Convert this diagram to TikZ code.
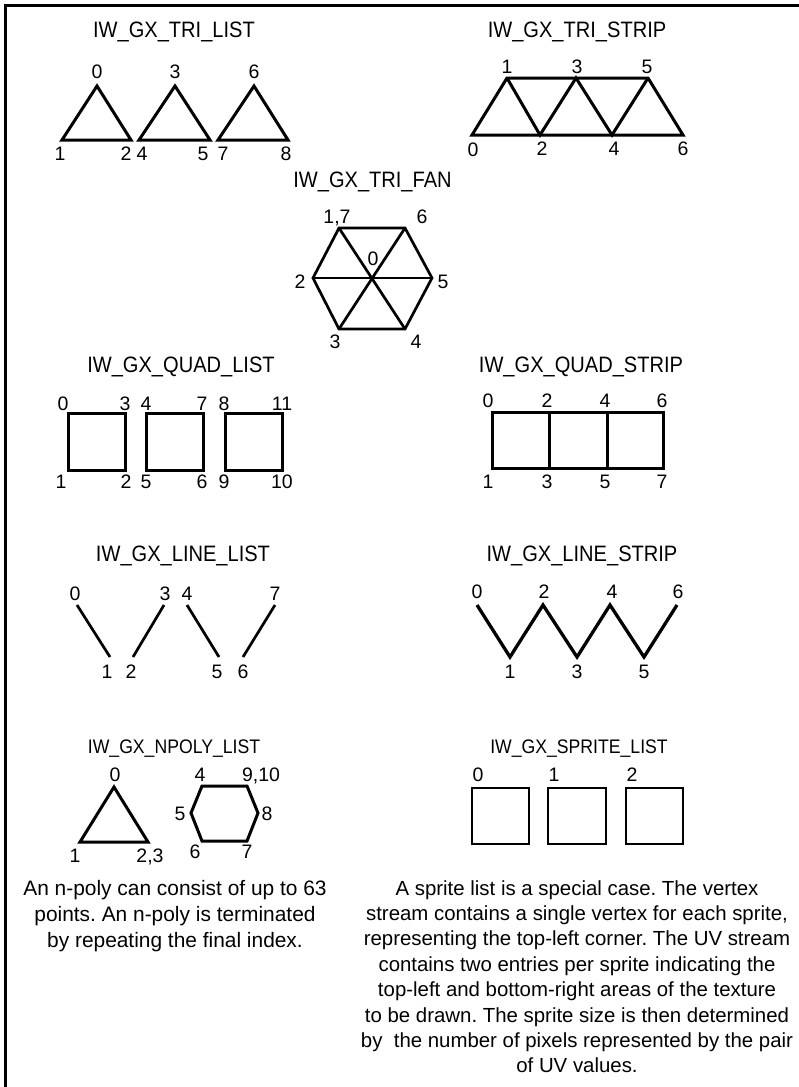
\documentclass[tikz,border=0pt]{standalone}
\usepackage{fontspec}
\setmainfont{Liberation Sans}
\newfontfamily\titlefont[FakeStretch=0.9]{Liberation Sans}
\frenchspacing
\begin{document}
\begin{tikzpicture}[x=1pt,y=-1pt,
  title/.style={font=\titlefont\fontsize{22.3}{26}\selectfont, inner sep=0pt, anchor=base},
  smalltitle/.style={font=\titlefont\fontsize{19.6}{24}\selectfont, inner sep=0pt, anchor=base},
  lbl/.style={font=\fontsize{19.5}{21}\selectfont, inner sep=0pt, anchor=base},
  para/.style={font=\fontsize{20.9}{25}\selectfont, inner sep=0pt, anchor=base},
  rpara/.style={font=\fontsize{20.4}{25}\selectfont, inner sep=0pt, anchor=base},
  thick3/.style={line width=3pt, line join=miter},
  thin2/.style={line width=1.8pt},
  frame/.style={line width=3pt}]
\useasboundingbox (0,0) rectangle (799,1087);
% frame
\coordinate (fa) at (799,5);
\coordinate (fb) at (5,5);
\coordinate (fc) at (5,1087);
\draw[frame] (fa) -- (fb) -- (fc);

% ---------- TRI LIST ----------
\node[title] (ttl1) at (174,37) {IW\_GX\_TRI\_LIST};
\coordinate (t0) at (97,86);  \coordinate (t1) at (62,140);  \coordinate (t2) at (131,140);
\coordinate (t3) at (175,86); \coordinate (t4) at (139,140); \coordinate (t5) at (210,140);
\coordinate (t6) at (254,86); \coordinate (t7) at (218,140); \coordinate (t8) at (288,140);
\draw[thick3] (t0) -- (t1) -- (t2) -- cycle;
\draw[thick3] (t3) -- (t4) -- (t5) -- cycle;
\draw[thick3] (t6) -- (t7) -- (t8) -- cycle;
\node[lbl] (lt0) at (97,78.5) {0};
\node[lbl] (lt3) at (175,78.5) {3};
\node[lbl] (lt6) at (254,78.5) {6};
\node[lbl] (lt1) at (60,160.5) {1};
\node[lbl] (lt2) at (126,160.5) {2};
\node[lbl] (lt4) at (142,160.5) {4};
\node[lbl] (lt5) at (203,160.5) {5};
\node[lbl] (lt7) at (223,160.5) {7};
\node[lbl] (lt8) at (286,160.5) {8};

% ---------- TRI STRIP ----------
\node[title] (ttl2) at (577,37) {IW\_GX\_TRI\_STRIP};
\coordinate (s0) at (472,135); \coordinate (s1) at (507,78);
\coordinate (s2) at (540,135); \coordinate (s3) at (576,78);
\coordinate (s4) at (612,135); \coordinate (s5) at (648,78);
\coordinate (s6) at (683,135);
\draw[thick3] (s0) -- (s6) -- (s5) -- (s1) -- cycle;
\draw[thick3] (s1) -- (s2) -- (s3) -- (s4) -- (s5);
\node[lbl] (ls1) at (507,73) {1};
\node[lbl] (ls3) at (577,73) {3};
\node[lbl] (ls5) at (647,73) {5};
\node[lbl] (ls0) at (473,156) {0};
\node[lbl] (ls2) at (542,155) {2};
\node[lbl] (ls4) at (614,155) {4};
\node[lbl] (ls6) at (683,155) {6};

% ---------- TRI FAN ----------
\node[title] (ttl3) at (372.5,187) {IW\_GX\_TRI\_FAN};
\coordinate (f0) at (372,278);
\coordinate (f1) at (339,228); \coordinate (f6) at (405,228);
\coordinate (f5) at (432,278); \coordinate (f4) at (405,329);
\coordinate (f3) at (339,329); \coordinate (f2) at (313,278);
\draw[line width=2.7pt] (f1) -- (f6) -- (f5) -- (f4) -- (f3) -- (f2) -- cycle;
\draw[line width=2.7pt] (f1) -- (f4);
\draw[line width=2.7pt] (f6) -- (f3);
\draw[line width=2.7pt] (f2) -- (f5);
\node[lbl] (lf1) at (337,223) {1,7};
\node[lbl] (lf6) at (422,223) {6};
\node[lbl] (lf0) at (373,265) {0};
\node[lbl] (lf2) at (300,288) {2};
\node[lbl] (lf5) at (443,288) {5};
\node[lbl] (lf3) at (335,348) {3};
\node[lbl] (lf4) at (416,348) {4};

% ---------- QUAD LIST ----------
\node[title] (ttl4) at (181,372) {IW\_GX\_QUAD\_LIST};
\coordinate (q0) at (68,413);  \coordinate (q2) at (125,470);
\coordinate (q4) at (146,413); \coordinate (q6) at (203,470);
\coordinate (q8) at (225,413); \coordinate (q10) at (282,470);
\draw[thick3] (q0) rectangle (q2);
\draw[thick3] (q4) rectangle (q6);
\draw[thick3] (q8) rectangle (q10);
\node[lbl] (lq0) at (63,410) {0};
\node[lbl] (lq3) at (125,410) {3};
\node[lbl] (lq4) at (146,410) {4};
\node[lbl] (lq7) at (202,410) {7};
\node[lbl] (lq8) at (224,410) {8};
\node[lbl] (lq11) at (282,410) {11};
\node[lbl] (lq1) at (61,488) {1};
\node[lbl] (lq2) at (126,488) {2};
\node[lbl] (lq5) at (146,488) {5};
\node[lbl] (lq6) at (202,488) {6};
\node[lbl] (lq9) at (224,488) {9};
\node[lbl] (lq10) at (282,488) {10};

% ---------- QUAD STRIP ----------
\node[title] (ttl5) at (581,372) {IW\_GX\_QUAD\_STRIP};
\coordinate (r0) at (492,412); \coordinate (r7) at (663,468);
\coordinate (r2) at (549,412); \coordinate (r3) at (549,468);
\coordinate (r4) at (607,412); \coordinate (r5) at (607,468);
\draw[thick3] (r0) rectangle (r7);
\draw[thick3] (r2) -- (r3);
\draw[thick3] (r4) -- (r5);
\node[lbl] (lr0) at (488,407) {0};
\node[lbl] (lr2) at (547,407) {2};
\node[lbl] (lr4) at (605,407) {4};
\node[lbl] (lr6) at (662,407) {6};
\node[lbl] (lr1) at (488,488) {1};
\node[lbl] (lr3) at (547,488) {3};
\node[lbl] (lr5) at (605,488) {5};
\node[lbl] (lr7) at (662,488) {7};

% ---------- LINE LIST ----------
\node[title] (ttl6) at (183,561) {IW\_GX\_LINE\_LIST};
\coordinate (a0) at (77,605);  \coordinate (a1) at (110,657);
\coordinate (a3) at (164,605); \coordinate (a2) at (133,657);
\coordinate (a4) at (187,605); \coordinate (a5) at (219,657);
\coordinate (a7) at (275,605); \coordinate (a6) at (243,657);
\draw[line width=2.7pt] (a0) -- (a1);
\draw[line width=2.7pt] (a3) -- (a2);
\draw[line width=2.7pt] (a4) -- (a5);
\draw[line width=2.7pt] (a7) -- (a6);
\node[lbl] (la0) at (75,600) {0};
\node[lbl] (la3) at (165,600) {3};
\node[lbl] (la4) at (187,600) {4};
\node[lbl] (la7) at (275,600) {7};
\node[lbl] (la1) at (107,678) {1};
\node[lbl] (la2) at (131,678) {2};
\node[lbl] (la5) at (217,678) {5};
\node[lbl] (la6) at (243,678) {6};

% ---------- LINE STRIP ----------
\node[title] (ttl7) at (582,561) {IW\_GX\_LINE\_STRIP};
\coordinate (b0) at (477,605); \coordinate (b1) at (510,657);
\coordinate (b2) at (543,605); \coordinate (b3) at (577,657);
\coordinate (b4) at (610,605); \coordinate (b5) at (644,657);
\coordinate (b6) at (677,605);
\draw[line width=3.3pt, line join=miter] (b0) -- (b1) -- (b2) -- (b3) -- (b4) -- (b5) -- (b6);
\node[lbl] (lb0) at (477,598) {0};
\node[lbl] (lb2) at (544,598) {2};
\node[lbl] (lb4) at (612,598) {4};
\node[lbl] (lb6) at (678,598) {6};
\node[lbl] (lb1) at (510,678) {1};
\node[lbl] (lb3) at (577,678) {3};
\node[lbl] (lb5) at (644,678) {5};

% ---------- NPOLY LIST ----------
\node[smalltitle] (ttl8) at (174,753) {IW\_GX\_NPOLY\_LIST};
\coordinate (n0) at (114,787); \coordinate (n1) at (80,842); \coordinate (n2) at (148,842);
\draw[thick3] (n0) -- (n1) -- (n2) -- cycle;
\coordinate (h4) at (202,786); \coordinate (h9) at (247,786);
\coordinate (h8) at (258,813); \coordinate (h7) at (247,841);
\coordinate (h6) at (202,841); \coordinate (h5) at (191,813);
\draw[thick3] (h4) -- (h9) -- (h8) -- (h7) -- (h6) -- (h5) -- cycle;
\node[lbl] (ln0) at (115,781) {0};
\node[lbl] (ln4) at (200,781) {4};
\node[lbl] (ln9) at (261,781) {9,10};
\node[lbl] (ln5) at (180,820) {5};
\node[lbl] (ln8) at (267,820) {8};
\node[lbl] (ln1) at (75,862) {1};
\node[lbl] (ln2) at (150,862) {2,3};
\node[lbl] (ln6) at (195,858) {6};
\node[lbl] (ln7) at (247,858) {7};

% ---------- SPRITE LIST ----------
\node[smalltitle] (ttl9) at (579,753) {IW\_GX\_SPRITE\_LIST};
\coordinate (p0) at (472,788); \coordinate (p0b) at (529,844);
\coordinate (p1) at (548,788); \coordinate (p1b) at (606,844);
\coordinate (p2) at (626,788); \coordinate (p2b) at (683,844);
\draw[thin2] (p0) rectangle (p0b);
\draw[thin2] (p1) rectangle (p1b);
\draw[thin2] (p2) rectangle (p2b);
\node[lbl] (lp0) at (478,781) {0};
\node[lbl] (lp1) at (554,781) {1};
\node[lbl] (lp2) at (632,781) {2};

% ---------- TEXTS ----------
\node[para] (pl1) at (175,895) {An n-poly can consist of up to 63};
\node[para] (pl2) at (175,921) {points. An n-poly is terminated};
\node[para] (pl3) at (175,947) {by repeating the final index.};

\node[rpara] (pr1) at (577,895) {A sprite list is a special case. The vertex};
\node[rpara] (pr2) at (577,920.4) {stream contains a single vertex for each sprite,};
\node[rpara] (pr3) at (577,945.8) {representing the top-left corner. The UV stream};
\node[rpara] (pr4) at (577,971.2) {contains two entries per sprite indicating the};
\node[rpara] (pr5) at (577,996.6) {top-left and bottom-right areas of the texture};
\node[rpara] (pr6) at (577,1022) {to be drawn. The sprite size is then determined};
\node[rpara] (pr7) at (577,1047.4) {by \ the number of pixels represented by the pair};
\node[rpara] (pr8) at (577,1072.8) {of UV values.};
\end{tikzpicture}
\end{document}
